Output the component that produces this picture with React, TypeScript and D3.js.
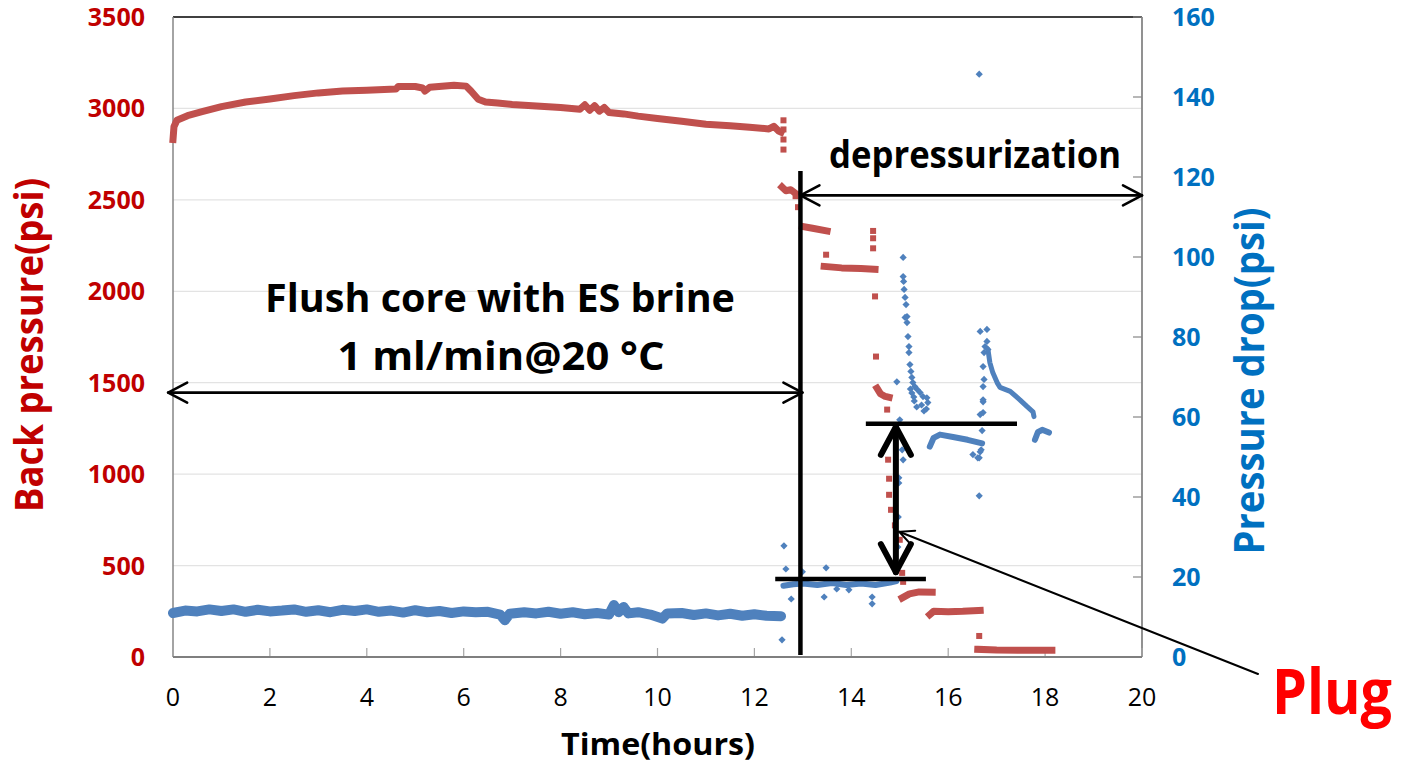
import React from "react";
import * as d3 from "d3";

// ---------- DATA ----------
const xTicks = [0, 2, 4, 6, 8, 10, 12, 14, 16, 18, 20];
const leftTicks = [0, 500, 1000, 1500, 2000, 2500, 3000, 3500];
const rightTicks = [0, 20, 40, 60, 80, 100, 120, 140, 160];

// Back pressure (psi) – dense runs of points (time h, psi)
const bpRun1: [number, number][] = [
  [0, 2830], [0.02, 2900], [0.08, 2935], [0.3, 2960], [0.6, 2982], [1.0, 3010], [1.5, 3035],
  [2.0, 3052], [2.5, 3070], [3.0, 3085], [3.5, 3095], [4.0, 3100], [4.6, 3106], [4.65, 3120],
  [5.0, 3120], [5.15, 3112], [5.2, 3095], [5.3, 3116], [5.8, 3127], [6.05, 3122], [6.15, 3095],
  [6.3, 3050], [6.45, 3035], [6.7, 3030], [7.0, 3022], [7.5, 3013], [8.0, 3005], [8.4, 2996],
  [8.5, 3020], [8.6, 2990], [8.7, 3015], [8.8, 2985], [8.9, 3005], [9.0, 2978], [9.3, 2970],
  [9.6, 2958], [10.0, 2945], [10.5, 2930], [11.0, 2914], [11.5, 2905], [11.9, 2897],
  [12.3, 2888], [12.4, 2902], [12.5, 2876], [12.55, 2870],
];
const bpRun2: [number, number][] = [[12.57, 2570], [12.65, 2550], [12.75, 2555], [12.85, 2535]];
const bpRun3: [number, number][] = [[12.99, 2355], [13.2, 2345], [13.5, 2330]];
const bpRun4: [number, number][] = [[13.44, 2136], [13.8, 2128], [14.2, 2124], [14.49, 2120]];
const bpRun5: [number, number][] = [[14.53, 1470], [14.6, 1440], [14.7, 1425], [14.78, 1420]];
const bpRun6: [number, number][] = [[15.05, 323], [15.2, 345], [15.4, 356], [15.67, 355]];
const bpRun7: [number, number][] = [[15.62, 232], [15.7, 250], [16.0, 248], [16.3, 250], [16.66, 255]];
const bpRun8: [number, number][] = [[16.61, 42], [17.0, 38], [17.5, 37], [18.14, 37]];
// Back pressure – isolated points
const bpPoints: [number, number][] = [
  [12.6, 2935], [12.6, 2885], [12.6, 2830], [12.6, 2775], [12.85, 2520], [12.9, 2460],
  [13.48, 2200], [14.45, 2330], [14.45, 2290], [14.45, 2235], [14.49, 1972], [14.51, 1643],
  [14.74, 1353], [14.76, 1079], [14.78, 975], [14.78, 887], [14.82, 805], [14.9, 720],
  [15.0, 641], [15.05, 460], [15.07, 411], [16.64, 115],
];

// Pressure drop (psi) – dense runs of points (time h, psi)
const dpRun1: [number, number][] = [
  [0, 11.0], [0.25, 11.6], [0.5, 11.4], [0.75, 11.9], [1, 11.5], [1.25, 11.9], [1.5, 11.3],
  [1.75, 11.8], [2, 11.4], [2.25, 11.6], [2.5, 11.9], [2.75, 11.3], [3, 11.7], [3.25, 11.2],
  [3.5, 11.8], [3.75, 11.5], [4, 11.9], [4.25, 11.3], [4.5, 11.6], [4.75, 11.1], [5, 11.7],
  [5.25, 11.2], [5.5, 11.5], [5.75, 11.0], [6, 11.4], [6.25, 11.2], [6.5, 11.3], [6.75, 10.6],
  [6.85, 9.2], [6.95, 10.8], [7.25, 11.2], [7.5, 10.9], [7.75, 11.3], [8, 10.8], [8.25, 11.2],
  [8.5, 10.7], [8.75, 11.0], [9, 10.6], [9.1, 13.0], [9.2, 11.2], [9.3, 12.5], [9.4, 10.9],
  [9.6, 11.2], [9.85, 10.6], [10.1, 9.6], [10.2, 10.9], [10.5, 11.0], [10.75, 10.5], [11, 10.9],
  [11.25, 10.4], [11.5, 10.8], [11.75, 10.3], [12, 10.7], [12.25, 10.3], [12.55, 10.2],
];
const dpRun2: [number, number][] = [
  [12.6, 17.8], [12.8, 18.2], [13.0, 18.4], [13.3, 18.0], [13.6, 18.5], [13.9, 18.0],
  [14.2, 18.4], [14.5, 18.0], [14.8, 18.6], [14.93, 19.0],
];
const dpRun3: [number, number][] = [
  [15.62, 52.6], [15.7, 54.8], [15.83, 55.6], [16.1, 55.0], [16.4, 54.3], [16.7, 53.4],
];
const dpRun4: [number, number][] = [
  [16.82, 76.9], [16.86, 73.6], [16.92, 71.1], [17.01, 68.6], [17.07, 67.4], [17.28, 66.4],
  [17.48, 64.3], [17.63, 62.6], [17.75, 61.3], [17.77, 60.1],
];
const dpRun5: [number, number][] = [[17.79, 54.3], [17.85, 56.2], [17.94, 56.8], [18.08, 56.1]];
// Pressure drop – isolated points
const dpPoints: [number, number][] = [
  [12.57, 4.3], [12.61, 27.8], [12.65, 22], [12.76, 14.5], [12.99, 21.3], [13.44, 15],
  [13.48, 22.3], [13.7, 17], [13.95, 16.8], [14.43, 15], [14.43, 13.3],
  [14.94, 68.8], [14.94, 22], [14.96, 27.5], [14.97, 35], [14.98, 43.5], [14.98, 44.8],
  [15.0, 59.3], [15.05, 51.8], [15.07, 49.3],
  [15.07, 99.9], [15.07, 95.1], [15.08, 93.9], [15.09, 91.9], [15.11, 89.9], [15.13, 88.1],
  [15.15, 85.1], [15.11, 84.9], [15.15, 83.6], [15.17, 80.1], [15.19, 77.6], [15.19, 76.1],
  [15.21, 73.1], [15.23, 71.4], [15.25, 69.9], [15.27, 68.6], [15.31, 67.6], [15.36, 66.9],
  [15.42, 66.1], [15.48, 65.1], [15.56, 64.8], [15.58, 63.6], [15.29, 65], [15.22, 67],
  [15.3, 64], [15.35, 62.5], [15.45, 63], [15.5, 61.5], [15.55, 62], [15.25, 66],
  [16.51, 50.6], [16.64, 49.8], [16.66, 51.3], [16.64, 40.3], [16.61, 49.8], [16.68, 51.8],
  [16.7, 56.6], [16.72, 61.1], [16.72, 63.8], [16.66, 60.6], [16.72, 64.3], [16.72, 67.6],
  [16.74, 69.4], [16.72, 72.6], [16.74, 76.1], [16.76, 77.6], [16.66, 81.4], [16.8, 81.9],
  [16.8, 78.9], [16.82, 76.9], [16.64, 145.7],
];

// ---------- LAYOUT ----------
const W = 1410;
const H = 764;
const x = d3.scaleLinear().domain([0, 20]).range([173, 1142]);
const yL = d3.scaleLinear().domain([0, 3500]).range([657, 17]);
const yR = d3.scaleLinear().domain([0, 160]).range([657, 17]);

const RED = "#C0504D";
const BLUE = "#4F81BD";
const RED_TXT = "#C00000";
const BLUE_TXT = "#0070C0";
const FONT = "'Open Sans', 'Liberation Sans', sans-serif";

const lineL = d3.line<[number, number]>().x((d) => x(d[0])).y((d) => yL(d[1]));
const lineR = d3.line<[number, number]>().x((d) => x(d[0])).y((d) => yR(d[1]));

const bpRuns = [bpRun1, bpRun2, bpRun3, bpRun4, bpRun5, bpRun6, bpRun7, bpRun8];
const dpRuns = [dpRun2, dpRun3, dpRun4, dpRun5];

function ArrowH({ x1, x2, y }: { x1: number; x2: number; y: number }) {
  const dx = 19, dy = 10;
  return (
    <g stroke="#000" strokeWidth={2.6} fill="none" strokeLinecap="round" strokeLinejoin="round">
      <line x1={x1} y1={y} x2={x2} y2={y} />
      <polyline points={`${x1 + dx},${y - dy} ${x1},${y} ${x1 + dx},${y + dy}`} />
      <polyline points={`${x2 - dx},${y - dy} ${x2},${y} ${x2 - dx},${y + dy}`} />
    </g>
  );
}

export default function App() {
  const vx = x(12.95);
  const depY = yR(115.4);
  const flushY = yL(1446);
  const hTopY = yR(58.3);
  const hBotY = yR(19.5);
  const ax = x(14.92);
  const aTop = hTopY + 3;
  const aBot = yR(21.2);
  const plugTip: [number, number] = [x(14.99), yR(31.3)];
  const plugTail: [number, number] = [1258, 674];
  const ddx = plugTail[0] - plugTip[0];
  const ddy = plugTail[1] - plugTip[1];
  const len = Math.hypot(ddx, ddy);
  const ux = ddx / len, uy = ddy / len;
  const bl = 16, c = Math.cos(Math.PI / 7), s = Math.sin(Math.PI / 7);
  const b1 = [plugTip[0] + bl * (ux * c + uy * s), plugTip[1] + bl * (-ux * s + uy * c)];
  const b2 = [plugTip[0] + bl * (ux * c - uy * s), plugTip[1] + bl * (ux * s + uy * c)];

  return (
    <svg width={W} height={H} style={{ position: "absolute", left: 0, top: 0, background: "#fff" }}>
      <rect width={W} height={H} fill="#fff" />
      {/* gridlines */}
      {leftTicks.filter((t) => t > 0 && t < 3500).map((t) => (
        <line key={t} x1={x(0)} x2={x(20)} y1={yL(t)} y2={yL(t)} stroke="#E3E3E3" strokeWidth={1.3} />
      ))}
      {/* axes */}
      <line x1={x(0)} x2={x(20)} y1={yL(3500)} y2={yL(3500)} stroke="#000" strokeWidth={1.5} />
      <line x1={x(0)} x2={x(0)} y1={yL(3500)} y2={yL(0)} stroke="#868686" strokeWidth={1.5} />
      <line x1={x(20)} x2={x(20)} y1={yL(3500)} y2={yL(0)} stroke="#868686" strokeWidth={1.8} />
      {xTicks.map((t) => (
        <line key={t} x1={x(t)} x2={x(t)} y1={yL(0)} y2={yL(0) - 9} stroke="#A6A6A6" strokeWidth={1.2} />
      ))}
      {rightTicks.map((t) => (
        <line key={t} x1={x(20) - 9} x2={x(20)} y1={yR(t)} y2={yR(t)} stroke="#868686" strokeWidth={1.2} />
      ))}
      <line x1={x(0)} x2={x(20)} y1={yL(0)} y2={yL(0)} stroke="#7F7F7F" strokeWidth={2.2} />

      {/* tick labels */}
      {xTicks.map((t) => (
        <text key={t} x={x(t)} y={706} textAnchor="middle" fontFamily={FONT} fontSize={25} fill="#000">
          {t}
        </text>
      ))}
      {leftTicks.map((t) => (
        <text key={t} x={145} y={yL(t) + 9} textAnchor="end" fontFamily={FONT} fontWeight="bold" fontSize={25} fill={RED_TXT}>
          {t}
        </text>
      ))}
      {rightTicks.map((t) => (
        <text key={t} x={1172} y={yR(t) + 9} textAnchor="start" fontFamily={FONT} fontWeight="bold" fontSize={25} fill={BLUE_TXT}>
          {t}
        </text>
      ))}

      {/* axis titles */}
      <text x={658} y={755} textAnchor="middle" fontFamily={FONT} fontWeight="bold" fontSize={31} textLength={194} lengthAdjust="spacingAndGlyphs" fill="#000">
        Time(hours)
      </text>
      <text transform={`translate(43,345) rotate(-90)`} textAnchor="middle" fontFamily={FONT} fontWeight="bold" fontSize={39} textLength={334} lengthAdjust="spacingAndGlyphs" fill={RED_TXT}>
        Back pressure(psi)
      </text>
      <text transform={`translate(1264,381) rotate(-90)`} textAnchor="middle" fontFamily={FONT} fontWeight="bold" fontSize={41} textLength={347} lengthAdjust="spacingAndGlyphs" fill={BLUE_TXT}>
        Pressure drop(psi)
      </text>

      {/* pressure drop series */}
      <path d={lineR(dpRun1) || ""} fill="none" stroke={BLUE} strokeWidth={10} strokeLinejoin="round" strokeLinecap="round" />
      {dpRuns.map((r, i) => (
        <path key={i} d={lineR(r) || ""} fill="none" stroke={BLUE} strokeWidth={i === 2 ? 5 : 6} strokeLinejoin="round" strokeLinecap="round" />
      ))}
      {dpPoints.map((d, i) => (
        <path key={i} transform={`translate(${x(d[0])},${yR(d[1])})`} d="M0,-3.6L3.6,0L0,3.6L-3.6,0Z" fill={BLUE} />
      ))}

      {/* back pressure series */}
      {bpRuns.map((r, i) => (
        <path key={i} d={lineL(r) || ""} fill="none" stroke={RED} strokeWidth={7} strokeLinejoin="round" strokeLinecap="square" />
      ))}
      {bpPoints.map((d, i) => (
        <rect key={i} x={x(d[0]) - 3} y={yL(d[1]) - 3} width={6} height={6} fill={RED} />
      ))}

      {/* annotations */}
      <line x1={vx} x2={vx} y1={yR(121.5)} y2={yR(0.5)} stroke="#000" strokeWidth={4.5} />
      <ArrowH x1={vx} x2={x(20)} y={depY} />
      <ArrowH x1={x(-0.1)} x2={vx + 2} y={flushY} />
      <line x1={x(14.3)} x2={x(17.42)} y1={hTopY} y2={hTopY} stroke="#000" strokeWidth={4.5} />
      <line x1={x(12.43)} x2={x(15.54)} y1={hBotY} y2={hBotY} stroke="#000" strokeWidth={4.5} />
      <g stroke="#000" strokeWidth={6} fill="none" strokeLinecap="round" strokeLinejoin="round">
        <line x1={ax} x2={ax} y1={aTop} y2={aBot} />
        <polyline points={`${ax - 15},${aTop + 28} ${ax},${aTop} ${ax + 15},${aTop + 28}`} />
        <polyline points={`${ax - 15},${aBot - 28} ${ax},${aBot} ${ax + 15},${aBot - 28}`} />
      </g>
      <g stroke="#000" strokeWidth={2} fill="none" strokeLinecap="round">
        <line x1={plugTip[0]} y1={plugTip[1]} x2={plugTail[0]} y2={plugTail[1]} />
        <polyline points={`${b1[0]},${b1[1]} ${plugTip[0]},${plugTip[1]} ${b2[0]},${b2[1]}`} />
      </g>

      <text x={975} y={168} textAnchor="middle" fontFamily={FONT} fontWeight="bold" fontSize={37} textLength={292} lengthAdjust="spacingAndGlyphs" fill="#000">
        depressurization
      </text>
      <text x={500} y={312} textAnchor="middle" fontFamily={FONT} fontWeight="bold" fontSize={39} textLength={470} lengthAdjust="spacingAndGlyphs" fill="#000">
        Flush core with ES brine
      </text>
      <text x={501} y={370} textAnchor="middle" fontFamily={FONT} fontWeight="bold" fontSize={39} textLength={327} lengthAdjust="spacingAndGlyphs" fill="#000">
        1 ml/min@20 °C
      </text>
      <text x={1332} y={714} textAnchor="middle" fontFamily={FONT} fontWeight="bold" fontSize={62} textLength={120} lengthAdjust="spacingAndGlyphs" fill="#FF0000">
        Plug
      </text>
    </svg>
  );
}
